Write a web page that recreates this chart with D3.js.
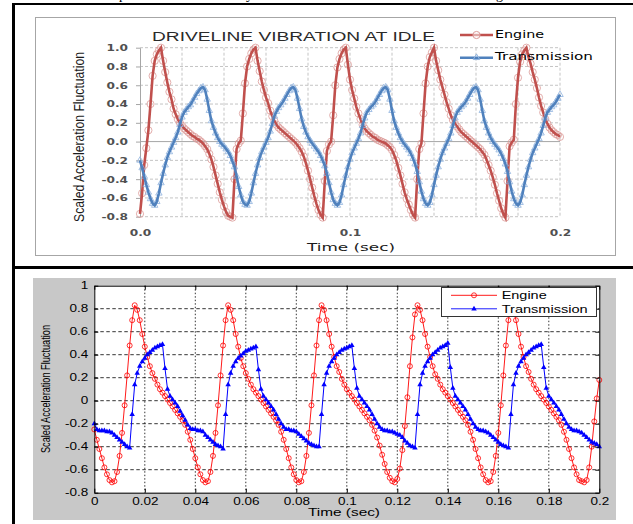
<!DOCTYPE html>
<html>
<head>
<meta charset="utf-8">
<script src="https://cdn.jsdelivr.net/npm/d3@7"></script>
<style>
  body { margin: 0; background: #fff; }
  svg { display: block; }
</style>
</head>
<body>
<svg id="page" width="633" height="524"></svg>
<script>
// sample step of all four series (sec)
const timeStep = 0.001;

// --- upper chart (measured) ---
const upperEngine = [
  -0.77,-0.55,-0.25,-0.07,0.12,0.40,0.70,0.86,0.93,0.97,
  1.00,0.86,0.74,0.63,0.53,0.45,0.35,0.29,0.24,0.20,
  0.17,0.14,0.12,0.10,0.08,0.06,0.05,0.03,0.02,0.00,
  -0.02,-0.05,-0.08,-0.13,-0.19,-0.27,-0.36,-0.45,-0.54,-0.62,
  -0.69,-0.75,-0.79,-0.80,-0.81,-0.40,-0.08,-0.02,0.01,0.30,
  0.62,0.80,0.88,0.94,0.98,1.00,0.86,0.75,0.64,0.55,
  0.47,0.41,0.33,0.27,0.22,0.18,0.15,0.13,0.11,0.09,
  0.07,0.05,0.03,0.01,-0.01,-0.04,-0.07,-0.11,-0.16,-0.23,
  -0.31,-0.40,-0.49,-0.58,-0.66,-0.73,-0.78,-0.81,-0.42,-0.10,
  -0.03,0.00,0.28,0.60,0.79,0.88,0.94,0.98,1.00,0.82,
  0.66,0.55,0.46,0.37,0.30,0.24,0.18,0.14,0.11,0.09,
  0.07,0.05,0.04,0.02,0.01,0.00,-0.01,-0.02,-0.04,-0.06,
  -0.09,-0.14,-0.20,-0.28,-0.36,-0.45,-0.54,-0.61,-0.67,-0.73,
  -0.78,-0.81,-0.40,-0.08,-0.02,0.30,0.62,0.80,0.90,0.95,
  1.00,0.86,0.76,0.66,0.58,0.50,0.42,0.35,0.28,0.23,
  0.19,0.16,0.13,0.10,0.08,0.06,0.04,0.02,0.00,-0.02,
  -0.04,-0.06,-0.08,-0.11,-0.14,-0.19,-0.25,-0.31,-0.38,-0.46,
  -0.55,-0.63,-0.71,-0.77,-0.81,-0.42,-0.05,-0.01,0.02,0.40,
  0.68,0.85,0.93,0.97,1.00,0.90,0.83,0.74,0.66,0.57,
  0.47,0.38,0.31,0.24,0.19,0.15,0.12,0.10,0.08,0.07,
  0.05
];
const upperTrans = [
  -0.20,-0.28,-0.37,-0.46,-0.54,-0.61,-0.66,-0.68,-0.64,-0.55,
  -0.44,-0.34,-0.25,-0.17,-0.11,-0.06,-0.01,0.04,0.10,0.18,
  0.26,0.31,0.34,0.37,0.39,0.43,0.47,0.51,0.54,0.57,
  0.58,0.55,0.45,0.33,0.22,0.15,0.09,0.04,0.00,-0.03,
  -0.05,-0.08,-0.11,-0.15,-0.21,-0.27,-0.37,-0.48,-0.57,-0.64,
  -0.67,-0.68,-0.64,-0.55,-0.44,-0.34,-0.25,-0.17,-0.11,-0.06,
  -0.01,0.04,0.11,0.19,0.27,0.32,0.36,0.39,0.42,0.46,
  0.50,0.54,0.57,0.58,0.55,0.46,0.35,0.24,0.16,0.10,
  0.05,0.01,-0.02,-0.05,-0.08,-0.11,-0.15,-0.20,-0.26,-0.34,
  -0.44,-0.54,-0.62,-0.66,-0.68,-0.65,-0.57,-0.46,-0.36,-0.27,
  -0.19,-0.12,-0.07,-0.02,0.03,0.09,0.17,0.25,0.31,0.34,
  0.37,0.39,0.42,0.46,0.50,0.54,0.57,0.58,0.55,0.45,
  0.33,0.22,0.15,0.09,0.04,0.00,-0.03,-0.06,-0.09,-0.13,
  -0.18,-0.24,-0.32,-0.43,-0.53,-0.61,-0.66,-0.68,-0.65,-0.57,
  -0.46,-0.36,-0.27,-0.19,-0.12,-0.07,-0.02,0.03,0.09,0.17,
  0.25,0.31,0.34,0.37,0.39,0.42,0.46,0.50,0.54,0.57,
  0.58,0.55,0.45,0.33,0.22,0.15,0.09,0.04,0.00,-0.03,
  -0.06,-0.09,-0.13,-0.18,-0.24,-0.32,-0.43,-0.53,-0.61,-0.66,
  -0.68,-0.65,-0.57,-0.46,-0.36,-0.27,-0.19,-0.12,-0.07,-0.02,
  0.03,0.09,0.17,0.25,0.31,0.34,0.37,0.39,0.42,0.46,
  0.50
];
const upperYTicks = [-0.8,-0.6,-0.4,-0.2,0,0.2,0.4,0.6,0.8,1.0];
const upperXTicks = [0, 0.1, 0.2];
const upperXGrid = [0.02,0.04,0.06,0.08,0.1,0.12,0.14,0.16,0.18,0.2];

// --- lower chart (simulated) ---
const lowerEngine = [
  -0.25,-0.34,-0.42,-0.50,-0.58,-0.64,-0.69,-0.71,-0.70,-0.62,
  -0.48,-0.28,-0.04,0.22,0.48,0.70,0.83,0.79,0.70,0.58,
  0.47,0.38,0.30,0.24,0.19,0.14,0.10,0.07,0.04,0.01,
  -0.02,-0.05,-0.08,-0.11,-0.14,-0.17,-0.21,-0.27,-0.34,-0.42,
  -0.50,-0.58,-0.64,-0.69,-0.71,-0.70,-0.62,-0.48,-0.28,-0.04,
  0.22,0.48,0.70,0.83,0.79,0.70,0.58,0.47,0.37,0.30,
  0.24,0.19,0.14,0.10,0.07,0.04,0.01,-0.02,-0.05,-0.08,
  -0.11,-0.14,-0.17,-0.21,-0.27,-0.34,-0.42,-0.50,-0.58,-0.64,
  -0.69,-0.71,-0.70,-0.62,-0.48,-0.28,-0.04,0.22,0.48,0.70,
  0.83,0.79,0.70,0.58,0.47,0.38,0.30,0.25,0.19,0.14,
  0.10,0.07,0.04,0.01,-0.02,-0.05,-0.08,-0.11,-0.14,-0.17,
  -0.21,-0.26,-0.32,-0.39,-0.47,-0.55,-0.62,-0.67,-0.70,-0.71,
  -0.68,-0.59,-0.43,-0.22,0.03,0.30,0.55,0.75,0.83,0.79,
  0.70,0.58,0.47,0.38,0.30,0.23,0.19,0.14,0.10,0.07,
  0.04,0.01,-0.02,-0.05,-0.08,-0.11,-0.14,-0.17,-0.21,-0.27,
  -0.34,-0.42,-0.50,-0.58,-0.64,-0.69,-0.71,-0.70,-0.62,-0.48,
  -0.28,-0.04,0.22,0.48,0.70,0.83,0.79,0.70,0.58,0.47,
  0.38,0.30,0.25,0.19,0.14,0.10,0.07,0.04,0.01,-0.02,
  -0.05,-0.08,-0.11,-0.14,-0.17,-0.21,-0.27,-0.34,-0.42,-0.50,
  -0.58,-0.64,-0.69,-0.70,-0.71,-0.69,-0.58,-0.40,-0.18,0.02,
  0.18
];
const lowerTrans = [
  -0.20,-0.25,-0.26,-0.26,-0.26,-0.27,-0.27,-0.28,-0.30,-0.32,
  -0.34,-0.36,-0.38,-0.40,-0.41,-0.12,0.14,0.24,0.30,0.34,
  0.37,0.40,0.42,0.44,0.46,0.47,0.48,0.49,0.28,0.10,
  0.04,0.01,-0.02,-0.05,-0.09,-0.13,-0.17,-0.21,-0.24,-0.25,
  -0.25,-0.26,-0.26,-0.27,-0.30,-0.32,-0.34,-0.36,-0.38,-0.39,
  -0.40,-0.42,-0.12,0.14,0.24,0.30,0.34,0.37,0.39,0.41,
  0.43,0.44,0.45,0.46,0.47,0.27,0.10,0.04,0.01,-0.02,
  -0.05,-0.08,-0.12,-0.16,-0.20,-0.23,-0.25,-0.25,-0.26,-0.26,
  -0.27,-0.29,-0.31,-0.33,-0.35,-0.37,-0.38,-0.39,-0.40,-0.40,
  -0.12,0.14,0.24,0.30,0.34,0.37,0.40,0.42,0.44,0.45,
  0.46,0.47,0.48,0.28,0.11,0.04,0.01,-0.02,-0.05,-0.08,
  -0.12,-0.16,-0.20,-0.23,-0.25,-0.26,-0.26,-0.27,-0.27,-0.28,
  -0.29,-0.30,-0.32,-0.35,-0.37,-0.39,-0.40,-0.41,-0.12,0.14,
  0.24,0.30,0.34,0.37,0.40,0.42,0.44,0.46,0.47,0.48,
  0.50,0.29,0.11,0.04,0.01,-0.02,-0.05,-0.08,-0.12,-0.16,
  -0.20,-0.23,-0.25,-0.26,-0.26,-0.27,-0.28,-0.30,-0.32,-0.34,
  -0.36,-0.38,-0.39,-0.40,-0.41,-0.12,0.14,0.24,0.30,0.34,
  0.37,0.40,0.42,0.44,0.46,0.47,0.48,0.49,0.29,0.11,
  0.04,0.01,-0.02,-0.05,-0.08,-0.12,-0.16,-0.20,-0.23,-0.25,
  -0.26,-0.26,-0.27,-0.28,-0.30,-0.32,-0.34,-0.36,-0.37,-0.38,
  -0.40
];
const lowerYTicks = [-0.8,-0.6,-0.4,-0.2,0,0.2,0.4,0.6,0.8,1];
const lowerXTicks = [0,0.02,0.04,0.06,0.08,0.1,0.12,0.14,0.16,0.18,0.2];

const seriesNames = ["Engine", "Transmission"];

const svg = d3.select("#page");

// widen text the way the scanned picture is widened
function stretch(sel, k) {
  sel.each(function () {
    const w = this.getComputedTextLength();
    d3.select(this).attr("textLength", w * k).attr("lengthAdjust", "spacingAndGlyphs");
  });
}
const toPoints = vals => vals.map((v, i) => [i * timeStep, v]);

// cut-off text of the line above the table
svg.append("g")
  .style("font", "14px 'Liberation Serif'")
  .selectAll("text")
  .data([["p", 119], ["y", 246], ["g", 496]])
  .join("text")
    .attr("x", d => d[1]).attr("y", -1)
    .text(d => d[0]);

// table borders
svg.append("line").attr("x1", 12).attr("x2", 633).attr("y1", 4).attr("y2", 4)
  .attr("stroke", "#000").attr("stroke-width", 2);
svg.append("line").attr("x1", 13.5).attr("x2", 13.5).attr("y1", 3).attr("y2", 524)
  .attr("stroke", "#000").attr("stroke-width", 3);
svg.append("line").attr("x1", 12).attr("x2", 633).attr("y1", 267.5).attr("y2", 267.5)
  .attr("stroke", "#000").attr("stroke-width", 3);

// ================= upper chart =================
const up = svg.append("g");
up.append("rect")
  .attr("x", 35.5).attr("y", 17.5).attr("width", 580).attr("height", 238)
  .attr("fill", "#fff").attr("stroke", "#a6a6a6");

const xU = d3.scaleLinear().domain([0, 0.2]).range([140, 560]);
const yU = d3.scaleLinear().domain([-0.8, 1]).range([216.7, 47.7]);

// gridlines
up.append("g").selectAll("line")
  .data(upperYTicks.filter(d => d !== 0))
  .join("line")
    .attr("x1", xU(0)).attr("x2", xU(0.2))
    .attr("y1", d => yU(d)).attr("y2", d => yU(d))
    .attr("stroke", "#c4c4c4").attr("stroke-dasharray", "3,2");
up.append("g").selectAll("line")
  .data(upperXGrid)
  .join("line")
    .attr("x1", d => xU(d)).attr("x2", d => xU(d))
    .attr("y1", yU(1)).attr("y2", yU(-0.8))
    .attr("stroke", "#c4c4c4").attr("stroke-dasharray", "3,2");
up.append("line")
  .attr("x1", xU(0)).attr("x2", xU(0.2)).attr("y1", yU(0)).attr("y2", yU(0))
  .attr("stroke", "#a6a6a6");

const yAxisU = up.append("g")
  .attr("transform", `translate(${xU(0)},0)`)
  .call(d3.axisLeft(yU).tickValues(upperYTicks).tickFormat(d => d.toFixed(1))
    .tickSizeInner(4).tickSizeOuter(0).tickPadding(8));
yAxisU.select(".domain").attr("stroke", "#a6a6a6");
yAxisU.selectAll(".tick line").attr("stroke", "#a6a6a6");
yAxisU.selectAll("text")
  .style("font", "bold 9px 'DejaVu Sans'").attr("fill", "#505050");
stretch(yAxisU.selectAll("text"), 1.35);

const xAxisU = up.append("g")
  .attr("transform", `translate(0,${yU(-0.8)})`)
  .call(d3.axisBottom(xU).tickValues(upperXTicks).tickFormat(d => d.toFixed(1))
    .tickSize(0).tickPadding(13));
xAxisU.select(".domain").remove();
xAxisU.selectAll("text")
  .style("font", "bold 9px 'DejaVu Sans'").attr("fill", "#505050");
stretch(xAxisU.selectAll("text"), 1.35);

up.append("text")
  .attr("x", 152).attr("y", 40.5)
  .attr("textLength", 283).attr("lengthAdjust", "spacingAndGlyphs")
  .style("font", "12.5px 'Liberation Sans'").attr("fill", "#2a2a2a")
  .text("DRIVELINE VIBRATION AT IDLE");
up.append("text")
  .attr("x", 351).attr("y", 251).attr("text-anchor", "middle")
  .attr("textLength", 88).attr("lengthAdjust", "spacingAndGlyphs")
  .style("font", "11px 'DejaVu Sans'").attr("fill", "#1a1a1a")
  .text("Time (sec)");
up.append("text")
  .attr("transform", "translate(84,137) rotate(-90)").attr("text-anchor", "middle")
  .attr("textLength", 170).attr("lengthAdjust", "spacingAndGlyphs")
  .style("font", "14px 'Liberation Sans'").attr("fill", "#1a1a1a")
  .text("Scaled Acceleration Fluctuation");

const lineU = d3.line().x(d => xU(d[0])).y(d => yU(d[1]));
const engU = toPoints(upperEngine);
const trU = toPoints(upperTrans);
const triU = d3.symbol(d3.symbolTriangle, 18);

up.append("g").selectAll("circle")
  .data(engU)
  .join("circle")
    .attr("cx", d => xU(d[0])).attr("cy", d => yU(d[1])).attr("r", 3.6)
    .attr("fill", "none").attr("stroke", "#dc9a98").attr("stroke-width", 0.8);
up.append("path").datum(engU)
  .attr("d", lineU).attr("fill", "none")
  .attr("stroke", "#c0504d").attr("stroke-width", 2.6);

up.append("g").selectAll("path")
  .data(trU)
  .join("path")
    .attr("d", triU)
    .attr("transform", d => `translate(${xU(d[0])},${yU(d[1])})`)
    .attr("fill", "none").attr("stroke", "#8fb3de").attr("stroke-width", 0.8);
up.append("path").datum(trU)
  .attr("d", lineU).attr("fill", "none")
  .attr("stroke", "#4f81bd").attr("stroke-width", 2.6);

// upper legend
const legU = up.append("g");
const legUy = [35, 57.7];
legU.selectAll("line")
  .data(seriesNames)
  .join("line")
    .attr("x1", 460).attr("x2", 493)
    .attr("y1", (d, i) => legUy[i]).attr("y2", (d, i) => legUy[i])
    .attr("stroke", (d, i) => i === 0 ? "#c0504d" : "#4f81bd").attr("stroke-width", 2.6);
legU.append("circle").attr("cx", 476.5).attr("cy", legUy[0]).attr("r", 3.6)
  .attr("fill", "#fff").attr("fill-opacity", 0.5).attr("stroke", "#dc9a98");
legU.append("path").attr("d", triU)
  .attr("transform", `translate(476.5,${legUy[1]})`)
  .attr("fill", "none").attr("stroke", "#8fb3de");
legU.selectAll("text")
  .data(seriesNames)
  .join("text")
    .attr("x", 495).attr("y", (d, i) => legUy[i] + 2.6)
    .attr("textLength", (d, i) => i === 0 ? 49 : 98).attr("lengthAdjust", "spacingAndGlyphs")
    .style("font", "10px 'DejaVu Sans'").attr("fill", "#000")
    .text(d => d);

// ================= lower chart =================
const lo = svg.append("g");
lo.append("rect")
  .attr("x", 33).attr("y", 278).attr("width", 583).attr("height", 242)
  .attr("fill", "#c8c8c8");

const xL = d3.scaleLinear().domain([0, 0.2]).range([94.3, 599.3]);
const yL = d3.scaleLinear().domain([-0.8, 1]).range([492.7, 285.7]);

lo.append("rect")
  .attr("x", xL(0)).attr("y", yL(1))
  .attr("width", xL(0.2) - xL(0)).attr("height", yL(-0.8) - yL(1))
  .attr("fill", "#fff");

lo.append("g").selectAll("line")
  .data(lowerYTicks.slice(1, -1))
  .join("line")
    .attr("x1", xL(0)).attr("x2", xL(0.2))
    .attr("y1", d => yL(d)).attr("y2", d => yL(d))
    .attr("stroke", "#000").attr("stroke-width", 0.8).attr("stroke-dasharray", "3.5,2.5");
lo.append("g").selectAll("line")
  .data(lowerXTicks.slice(1, -1))
  .join("line")
    .attr("x1", d => xL(d)).attr("x2", d => xL(d))
    .attr("y1", yL(1)).attr("y2", yL(-0.8))
    .attr("stroke", "#000").attr("stroke-width", 0.8).attr("stroke-dasharray", "1.5,2");

const lineL = d3.line().x(d => xL(d[0])).y(d => yL(d[1]));
const engL = toPoints(lowerEngine);
const trL = toPoints(lowerTrans);
const triL = d3.symbol(d3.symbolTriangle, 13);

lo.append("path").datum(engL)
  .attr("d", lineL).attr("fill", "none").attr("stroke", "#ff0000").attr("stroke-width", 0.9);
lo.append("g").selectAll("circle")
  .data(engL)
  .join("circle")
    .attr("cx", d => xL(d[0])).attr("cy", d => yL(d[1])).attr("r", 2.5)
    .attr("fill", "none").attr("stroke", "#ff0000").attr("stroke-width", 0.8);

lo.append("path").datum(trL)
  .attr("d", lineL).attr("fill", "none").attr("stroke", "#0000ff").attr("stroke-width", 1);
lo.append("g").selectAll("path")
  .data(trL)
  .join("path")
    .attr("d", triL)
    .attr("transform", d => `translate(${xL(d[0])},${yL(d[1])})`)
    .attr("fill", "#0000ff");

// axes with inward ticks on all four sides
const tickFmtL = d => String(+d.toFixed(2));
const yAxisL = lo.append("g")
  .attr("transform", `translate(${xL(0)},0)`)
  .call(d3.axisLeft(yL).tickValues(lowerYTicks).tickFormat(tickFmtL)
    .tickSizeInner(-4).tickSizeOuter(0).tickPadding(6));
const xAxisL = lo.append("g")
  .attr("transform", `translate(0,${yL(-0.8)})`)
  .call(d3.axisBottom(xL).tickValues(lowerXTicks).tickFormat(tickFmtL)
    .tickSizeInner(-4).tickSizeOuter(0).tickPadding(5));
lo.append("g")
  .attr("transform", `translate(${xL(0.2)},0)`)
  .call(d3.axisRight(yL).tickValues(lowerYTicks).tickFormat("")
    .tickSizeInner(-4).tickSizeOuter(0));
lo.append("g")
  .attr("transform", `translate(0,${yL(1)})`)
  .call(d3.axisTop(xL).tickValues(lowerXTicks).tickFormat("")
    .tickSizeInner(-4).tickSizeOuter(0));
lo.selectAll(".domain").attr("stroke", "#000");
lo.selectAll(".tick line").attr("stroke", "#000");
[yAxisL, xAxisL].forEach(ax => {
  ax.selectAll("text").style("font", "10px 'Liberation Sans'").attr("fill", "#000");
  stretch(ax.selectAll("text"), 1.35);
});

lo.append("text")
  .attr("x", 344).attr("y", 516).attr("text-anchor", "middle")
  .attr("textLength", 72).attr("lengthAdjust", "spacingAndGlyphs")
  .style("font", "10px 'Liberation Sans'").attr("fill", "#000")
  .text("Time (sec)");
lo.append("text")
  .attr("transform", "translate(50,389) rotate(-90)").attr("text-anchor", "middle")
  .attr("textLength", 128).attr("lengthAdjust", "spacingAndGlyphs")
  .style("font", "12px 'Liberation Sans'").attr("fill", "#000")
  .text("Scaled Acceleration Fluctuation");

// lower legend
const legL = lo.append("g");
legL.append("rect")
  .attr("x", 441.5).attr("y", 287.5).attr("width", 155).attr("height", 29)
  .attr("fill", "#fff").attr("stroke", "#333");
const legLy = [295.3, 308.8];
legL.selectAll("line")
  .data(seriesNames)
  .join("line")
    .attr("x1", 451).attr("x2", 497)
    .attr("y1", (d, i) => legLy[i]).attr("y2", (d, i) => legLy[i])
    .attr("stroke", (d, i) => i === 0 ? "#ff0000" : "#0000ff").attr("stroke-width", 0.9);
legL.append("circle").attr("cx", 474).attr("cy", legLy[0]).attr("r", 2.5)
  .attr("fill", "none").attr("stroke", "#ff0000").attr("stroke-width", 0.8);
legL.append("path").attr("d", triL)
  .attr("transform", `translate(474,${legLy[1]})`).attr("fill", "#0000ff");
legL.selectAll("text")
  .data(seriesNames)
  .join("text")
    .attr("x", 501.7).attr("y", (d, i) => legLy[i] + 3.8)
    .attr("textLength", (d, i) => i === 0 ? 45 : 86).attr("lengthAdjust", "spacingAndGlyphs")
    .style("font", "10.5px 'Liberation Sans'").attr("fill", "#000")
    .text(d => d);
</script>
</body>
</html>
